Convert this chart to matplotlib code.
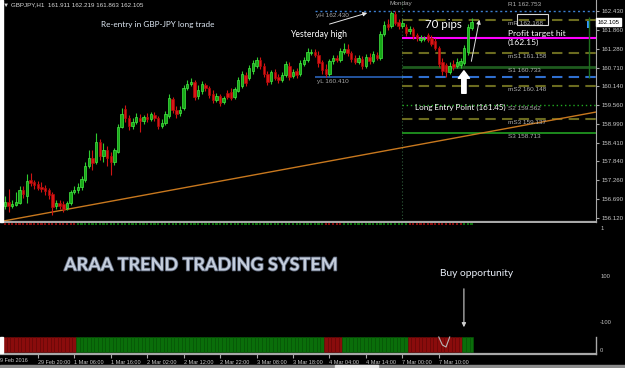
import matplotlib
matplotlib.use("Agg")
import matplotlib.pyplot as plt
import matplotlib.patheffects as pe
from matplotlib.patches import Rectangle

plt.rcParams['font.family'] = ['Liberation Sans', 'DejaVu Sans']

# GBPJPY H1, one bar per hour from 29 Feb 2016 11:00 to 7 Mar 2016 19:00
opens = [
    156.47, 156.59, 156.47, 156.50, 156.56, 156.96, 156.78, 157.27, 157.21, 157.15,
    157.05, 157.02, 156.96, 156.84, 156.47, 156.56, 156.53, 156.41, 156.56, 156.90,
    156.96, 157.05, 157.27, 157.70, 157.94, 157.82, 158.43, 158.00, 158.19, 158.00,
    157.82, 158.13, 158.89, 159.44, 159.17, 158.92, 159.04, 159.17, 159.08, 159.20,
    159.14, 159.26, 159.17, 158.92, 159.01, 159.23, 159.75, 159.41, 159.32, 159.47,
    160.09, 160.21, 160.27, 159.84, 159.99, 160.18, 160.09, 159.90, 159.72, 159.84,
    159.66, 159.93, 159.96, 159.81, 159.99, 160.15, 160.48, 160.39, 160.61, 160.76,
    160.94, 160.76, 160.52, 160.30, 160.58, 160.42, 160.33, 160.48, 160.76, 160.45,
    160.61, 160.52, 160.82, 160.94, 161.16, 161.19, 161.10, 160.88, 160.67, 160.52,
    160.91, 161.01, 160.94, 161.19, 161.28, 161.16, 161.01, 160.88, 160.97, 160.76,
    161.04, 160.91, 161.10, 161.01, 161.74, 162.05, 161.99, 162.35, 162.11, 161.99,
    161.96, 161.83, 161.89, 161.71, 161.56, 161.59, 161.71, 161.62, 161.53, 161.31,
    160.88, 160.79, 160.58, 160.82, 160.76, 160.79, 160.85, 161.19, 161.911,
]
highs = [
    156.78, 156.99, 156.66, 156.90, 157.09, 157.09, 157.45, 157.48, 157.27, 157.24,
    157.21, 157.12, 157.02, 156.90, 156.66, 156.66, 156.62, 156.62, 156.96, 157.09,
    157.18, 157.39, 157.82, 158.19, 158.19, 158.71, 158.52, 158.40, 158.31, 158.13,
    158.25, 158.98, 159.47, 159.57, 159.26, 159.17, 159.32, 159.29, 159.26, 159.32,
    159.35, 159.35, 159.23, 159.14, 159.38, 159.90, 159.81, 159.53, 159.53, 160.18,
    160.33, 160.39, 160.33, 160.18, 160.30, 160.24, 160.15, 160.03, 159.93, 159.90,
    159.84, 160.03, 160.09, 160.12, 160.42, 160.61, 160.58, 160.79, 160.94, 161.04,
    161.04, 160.85, 160.61, 160.64, 160.67, 160.52, 160.58, 160.91, 160.88, 160.67,
    160.70, 160.94, 161.04, 161.31, 161.28, 161.28, 161.22, 160.94, 160.82, 160.97,
    161.10, 161.10, 161.31, 161.47, 161.43, 161.22, 161.10, 161.10, 161.07, 161.13,
    161.16, 161.22, 161.19, 161.83, 162.14, 162.20, 162.43, 162.43, 162.20, 162.17,
    162.05, 161.99, 161.96, 161.77, 161.71, 161.68, 161.77, 161.71, 161.62, 161.37,
    161.01, 160.85, 160.88, 160.94, 161.01, 161.01, 161.40, 162.05, 162.219,
]
lows = [
    156.38, 156.29, 156.41, 156.47, 156.53, 156.72, 156.56, 157.09, 156.99, 156.96,
    156.90, 156.81, 156.69, 156.20, 156.38, 156.38, 156.29, 156.35, 156.50, 156.84,
    156.87, 156.96, 157.21, 157.64, 157.57, 157.76, 157.88, 157.82, 157.70, 157.42,
    157.73, 158.10, 158.86, 159.04, 158.80, 158.83, 158.98, 158.74, 158.98, 159.04,
    159.08, 159.08, 158.83, 158.86, 158.95, 159.17, 159.32, 159.17, 159.23, 159.41,
    160.03, 160.15, 159.72, 159.75, 159.90, 159.99, 159.78, 159.63, 159.66, 159.53,
    159.60, 159.75, 159.72, 159.75, 159.96, 160.09, 160.15, 160.33, 160.52, 160.70,
    160.67, 160.42, 160.18, 160.21, 160.33, 160.24, 160.27, 160.42, 160.33, 160.39,
    160.39, 160.45, 160.76, 160.88, 161.10, 161.04, 160.73, 160.52, 160.42, 160.45,
    160.82, 160.88, 160.88, 161.13, 161.07, 160.88, 160.82, 160.82, 160.67, 160.70,
    160.82, 160.85, 160.94, 160.94, 161.68, 161.86, 161.92, 162.02, 161.89, 161.92,
    161.68, 161.74, 161.59, 161.53, 161.50, 161.53, 161.50, 161.37, 161.25, 160.73,
    160.48, 160.42, 160.52, 160.64, 160.70, 160.70, 160.79, 161.10, 161.863,
]
closes = [
    156.59, 156.47, 156.53, 156.59, 156.96, 156.84, 157.24, 157.18, 157.12, 157.02,
    156.99, 156.93, 156.81, 156.44, 156.56, 156.47, 156.38, 156.56, 156.90, 156.96,
    157.05, 157.30, 157.70, 157.94, 157.79, 158.43, 158.00, 158.19, 157.94, 157.82,
    158.19, 158.89, 159.29, 159.17, 158.92, 159.04, 159.20, 159.08, 159.20, 159.14,
    159.29, 159.17, 158.92, 159.01, 159.29, 159.78, 159.41, 159.29, 159.41, 160.09,
    160.21, 160.27, 159.81, 160.03, 160.21, 160.09, 159.87, 159.72, 159.84, 159.63,
    159.78, 159.81, 159.78, 160.06, 160.33, 160.52, 160.24, 160.70, 160.85, 160.94,
    160.76, 160.52, 160.27, 160.58, 160.39, 160.33, 160.48, 160.82, 160.42, 160.58,
    160.48, 160.85, 160.94, 161.19, 161.19, 161.10, 160.85, 160.64, 160.52, 160.91,
    161.01, 160.94, 161.22, 161.28, 161.16, 160.97, 160.88, 161.01, 160.76, 161.04,
    160.91, 161.13, 161.01, 161.74, 162.02, 161.96, 162.38, 162.08, 161.99, 162.08,
    161.77, 161.89, 161.68, 161.62, 161.62, 161.62, 161.56, 161.43, 161.31, 160.82,
    160.61, 160.58, 160.76, 160.73, 160.88, 160.91, 161.31, 161.96, 162.105,
]

price_ticks = [162.430, 161.860, 161.280, 160.710, 160.140, 159.560,
               158.990, 158.410, 157.840, 157.260, 156.690, 156.120]
last_price = 162.105

time_tick_bars = [9, 19, 29, 39, 49, 59, 69, 79, 89, 99, 109, 119]
time_tick_labels = ["29 Feb 20:00", "1 Mar 06:00", "1 Mar 16:00", "2 Mar 02:00",
                    "2 Mar 12:00", "2 Mar 22:00", "3 Mar 08:00", "3 Mar 18:00",
                    "4 Mar 04:00", "4 Mar 14:00", "7 Mar 00:00", "7 Mar 10:00"]

# pivot levels for Monday
pivot_names = ["R1", "mR", "mS1", "S1", "mS2", "S2", "mS3", "S3"]
pivot_values = [162.753, 162.168, 161.158, 160.733, 160.148, 159.562, 159.137, 158.713]
pivot_main = 161.62
yest_high = 162.430
yest_low = 160.410
friday_bar = 85
monday_bar = 109

trend_bars = [-0.6, 162.1]
trend_prices = [156.01, 159.35]

# trend system colour per hour
trend_runs = [("down", 20), ("up", 68), ("down", 5), ("up", 18), ("down", 15), ("up", 3)]
osc_bars = [119, 120, 121, 122]
osc_vals = [17, 9, 7, 17]

W, H = 625, 368


def box(x0, y0, x1, y1):
    return [x0 / W, 1 - y1 / H, (x1 - x0) / W, (y1 - y0) / H]


fig = plt.figure(figsize=(6.25, 3.68), dpi=100, facecolor='black')
ax = fig.add_axes(box(0, 0, 596, 222), facecolor='black')
ax2 = fig.add_axes(box(0, 223, 596, 354), facecolor='black')
xmin, xmax = -1.372, 162.14
ax.set_xlim(xmin, xmax)
ax.set_ylim(155.983, 162.782)
ax2.set_xlim(xmin, xmax)
ax2.set_ylim(0, 131)

grey = '#a8a8a8'
for a in (ax, ax2):
    a.spines['top'].set_visible(False)
    a.spines['left'].set_visible(False)
    a.spines['bottom'].set_color(grey)
    a.spines['bottom'].set_linewidth(1.6)
ax.spines['right'].set_color(grey)
ax2.spines['right'].set_visible(False)

ax.yaxis.tick_right()
ax.set_yticks(price_ticks)
ax.set_yticklabels([f"{p:.3f}" for p in price_ticks])
ax.tick_params(axis='y', color=grey, labelcolor='#c8c8c8', length=2.5, width=0.8,
               pad=1.5, labelsize=4.4)
ax.tick_params(axis='x', bottom=False, labelbottom=False)
ax2.set_yticks([])
ax2.set_xticks(time_tick_bars, time_tick_labels, ha='left')
ax2.tick_params(axis='x', color=grey, labelcolor='#c8c8c8', length=3, width=0.8,
                pad=1.5, labelsize=4.0)
ax2.text(-2.3, -0.053, "29 Feb 2016", transform=ax2.get_xaxis_transform(),
         fontsize=4.0, color='#c8c8c8', ha='left', va='center')

# candles
idx = list(range(len(closes)))
up = [c >= o for o, c in zip(opens, closes)]
wick_cols = ['#2ecc2e' if u else '#d01414' for u in up]
body_cols = ['#16a816' if u else '#d81616' for u in up]
edge_cols = ['#45e845' if u else '#b00808' for u in up]
ax.vlines(idx, lows, highs, colors=wick_cols, lw=0.8, zorder=3)
ax.bar(idx, [max(abs(c - o), 0.008) for o, c in zip(opens, closes)],
       bottom=[min(o, c) for o, c in zip(opens, closes)], width=0.66,
       color=body_cols, edgecolor=edge_cols, linewidth=0.5, zorder=4)

# trend line
ax.plot(trend_bars, trend_prices, color='#c8781e', lw=1.0, zorder=2)

# day separator
ax.axvline(monday_bar, color='#2e5a3a', lw=0.8, ls=(0, (1, 2)), zorder=1)

# yesterday high / low
ax.hlines(yest_high, friday_bar, xmax, colors='#3d7fd0', lw=1.0, linestyles=(0, (1.5, 2)))
ax.hlines(yest_low, friday_bar, monday_bar, colors='#2a62b8', lw=1.2)
ax.hlines(yest_low, monday_bar, xmax, colors='#2f6fd0', lw=1.5, linestyles=(0, (5, 3)))
ax.text(friday_bar + 0.3, yest_high - 0.11, f"yH {yest_high:.3f}", fontsize=4.6,
        color='#a8a8a8', va='center')
ax.text(friday_bar + 0.5, yest_low - 0.11, f"yL {yest_low:.3f}", fontsize=4.6,
        color='#a8a8a8', va='center')
ax.text(105.6, 162.66, "Monday", fontsize=4.6, color='#a8a8a8', va='center')

# pivots
ax.hlines(pivot_main, monday_bar, xmax, colors='#ff00ff', lw=1.5, zorder=2)
for name, val in zip(pivot_names, pivot_values):
    if name.startswith('m'):
        ax.hlines(val, monday_bar, xmax, colors='#6b6b1f', lw=1.5,
                  linestyles=(0, (5, 3)), zorder=1)
    elif name == 'S1':
        ax.hlines(val, monday_bar, xmax, colors='#1e5a1e', lw=2.0, zorder=1)
    elif name == 'S2':
        ax.hlines(val, monday_bar, xmax, colors='#22aa22', lw=1.0,
                  linestyles=(0, (1, 2)), zorder=1)
    elif name == 'S3':
        ax.hlines(val, monday_bar, xmax, colors='#22a022', lw=1.2, zorder=1)
    ax.text(137.9, val - 0.10, f"{name} {val:.3f}", fontsize=4.6, color='#b0b0b0',
            va='center', zorder=5)

# odd marks on the right edge
ax.vlines(160.2, 160.39, 162.26, colors='#1e6e1e', lw=1.0)
ax.bar(160.2, 0.22, bottom=161.92, width=0.8, color='#3399ff')

# current price box
ax.text(1.002, last_price, f"{last_price:.3f}", transform=ax.get_yaxis_transform(),
        fontsize=4.4, color='black', va='center', ha='left',
        bbox=dict(facecolor='white', edgecolor='white', pad=1.0))

# annotations
lato = ['Lato', 'DejaVu Sans']
ax.text(42.0, 162.02, "Re-entry in GBP-JPY long trade", family=lato, fontsize=5.9,
        color='#dfe9f5', ha='center', va='center')
ax.text(85.9, 161.74, "Yesterday high", family=lato, fontsize=6.2, color='white',
        ha='center', va='center')
ax.annotate('', xy=(100.1, 162.41), xytext=(88.3, 162.02),
            arrowprops=dict(arrowstyle='-|>', color='#e8e8e8', lw=0.7, mutation_scale=6))
ax.text(120.2, 162.02, "70 pips", family=lato, fontsize=8.3, color='white',
        ha='center', va='center', zorder=6)
ax.annotate('', xy=(130.3, 162.26), xytext=(127.8, 160.82),
            arrowprops=dict(arrowstyle='-|>', color='#e0e0e0', lw=0.7, mutation_scale=6))
ax.annotate('', xy=(125.9, 160.70), xytext=(125.9, 159.84),
            arrowprops=dict(arrowstyle='simple,head_width=0.9,head_length=0.6,tail_width=0.35',
                            color='white', mutation_scale=9))
ax.text(138.0, 161.77, "Profit target hit", family=lato, fontsize=6.1, color='white',
        va='center', zorder=6)
ax.text(138.0, 161.47, "(162.15)", family=lato, fontsize=6.1, color='white',
        va='center', zorder=6)
ax.add_patch(Rectangle((140.5, 162.02), 8.4, 0.33, fill=False, ec='#d8d8d8', lw=0.8, zorder=6))
ax.text(112.6, 159.50, "Long Entry Point (161.45)", family=lato, fontsize=5.8, color='white',
        va='center', zorder=6)

# header
fig.text(3 / W, 1 - 5 / H, "\u25bc GBPJPY,H1  161.911 162.219 161.863 162.105",
         fontsize=4.5, color='#d8d8d8', va='center', family=['Liberation Sans', 'DejaVu Sans'])

# indicator window
cols, edges = [], []
for state, n in trend_runs:
    cols += (['#0a6e0a'] if state == 'up' else ['#8a0c0c']) * n
    edges += (['#075a07'] if state == 'up' else ['#6e0808']) * n
ax2.bar(idx, 15, bottom=2, width=1.0, color=cols, edgecolor=edges, linewidth=0.4)
ax2.bar(idx, 1.2, bottom=129.5, width=0.6, color=cols)
ax2.plot(osc_bars, osc_vals, color='#b8b8b8', lw=0.8)
ax2.axvline(xmax, ymin=0, ymax=17 / 131, color=grey, lw=1.0, clip_on=False)

ax2.text(16.2, 89, "ARAA TREND TRADING SYSTEM", family=['Lato', 'DejaVu Sans'],
         fontweight='bold', fontsize=13.0, color='#c5cedc', ha='left', va='center',
         path_effects=[pe.withStroke(linewidth=1.2, foreground='#5a6478')])
ax2.text(129.5, 81, "Buy opportunity", family=lato, fontsize=7.4, color='#e8eef8',
         ha='center', va='center')
ax2.annotate('', xy=(125.9, 24), xytext=(125.9, 68),
             arrowprops=dict(arrowstyle='-|>', color='#d0d0d0', lw=0.8, mutation_scale=6))
yt = ax2.get_yaxis_transform()
for v, s in [(78, "100"), (32, "-100"), (4, "0"), (126, "1")]:
    ax2.text(1.007, v, s, transform=yt, fontsize=4.2, color='#c0c0c0', va='center')

# left border and bottom tab strip
fig.patches.append(Rectangle((0, 1 - 222 / H), 2.5 / W, 222 / H, color='white',
                             transform=fig.transFigure, figure=fig))
fig.patches.append(Rectangle((0, 1 - 353 / H), 2.5 / W, 16 / H, color='white',
                             transform=fig.transFigure, figure=fig))
fig.patches.append(Rectangle((0, 0), 1, 3 / H, color='#8a8a8a',
                             transform=fig.transFigure, figure=fig))
fig.patches.append(Rectangle((335 / W, 0), 43 / W, 3 / H, color='#e8e8e8',
                             transform=fig.transFigure, figure=fig))

fig.savefig('out.png', dpi=100, facecolor='black')
